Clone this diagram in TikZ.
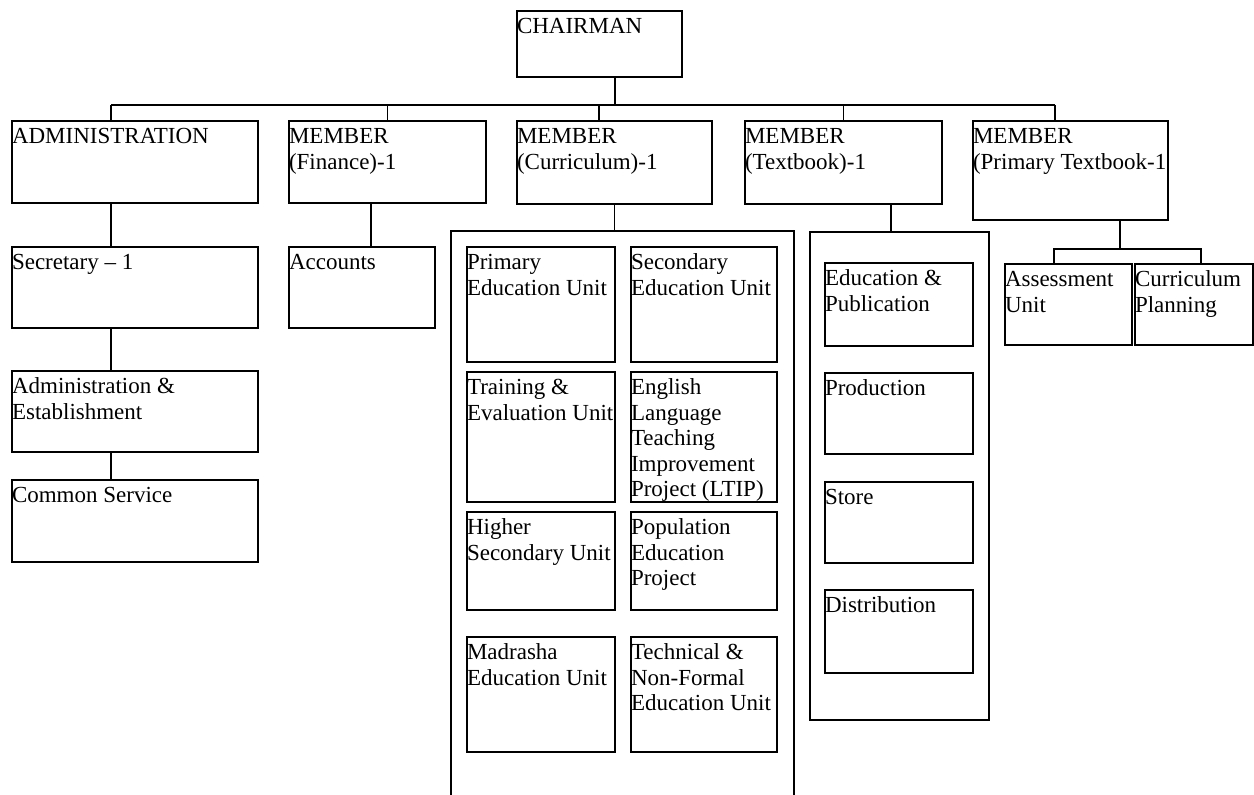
\documentclass[tikz,border=0pt]{standalone}
\usepackage{fontspec}
\setmainfont{Liberation Serif}
\usepackage{tikz}

\newcommand{\cell}[3]{\parbox[t][#2][t]{#1}{\raggedright\rule{0pt}{11.5pt}#3}}
\tikzset{unit/.style={draw, line width=0.9pt, inner sep=0pt, outer sep=0pt, anchor=north west, font=\fontsize{11.5pt}{12.7pt}\selectfont}}

\begin{document}
\begin{tikzpicture}[x=0.5pt, y=-0.5pt, line width=0.9pt]
  \useasboundingbox (0,0) rectangle (1254,795);
  \node[unit] (chair) at (517,11) {\cell{82.5pt}{33pt}{CHAIRMAN}};
  \node[unit] (admin) at (12,121) {\cell{123pt}{41pt}{ADMINISTRATION}};
  \node[unit] (fin) at (289,121) {\cell{98.5pt}{41pt}{MEMBER\\(Finance)-1}};
  \node[unit] (cur) at (517,121) {\cell{97.5pt}{41.5pt}{MEMBER\\(Curriculum)-1}};
  \node[unit] (tb) at (745,121) {\cell{98.5pt}{41.5pt}{MEMBER\\(Textbook)-1}};
  \node[unit] (ptb) at (973,121) {\cell{97.5pt}{49.5pt}{MEMBER\\(Primary Textbook-1}};
  \node[unit] (sec) at (12,247) {\cell{123pt}{40.5pt}{Secretary -- 1}};
  \node[unit] (adm) at (12,371) {\cell{123pt}{40.5pt}{Administration \&\\Establishment}};
  \node[unit] (com) at (12,480) {\cell{123pt}{41pt}{Common Service}};
  \node[unit] (acc) at (289,247) {\cell{73pt}{40.5pt}{Accounts}};
  \node[unit] (curbox) at (451,231) {\cell{171.5pt}{299.5pt}{}};
  \node[unit] (pri) at (467,247) {\cell{74pt}{57.5pt}{Primary\\Education Unit}};
  \node[unit] (scd) at (631,247) {\cell{73pt}{57.5pt}{Secondary\\Education Unit}};
  \node[unit] (trn) at (467,372) {\cell{74pt}{65pt}{Training \&\\Evaluation Unit}};
  \node[unit] (eng) at (631,372) {\cell{73pt}{65pt}{English\\Language\\Teaching\\Improvement\\Project (LTIP)}};
  \node[unit] (hig) at (467,512) {\cell{74pt}{49pt}{Higher\\Secondary Unit}};
  \node[unit] (pop) at (631,512) {\cell{73pt}{49pt}{Population\\Education\\Project}};
  \node[unit] (mad) at (467,637) {\cell{74pt}{57.5pt}{Madrasha\\Education Unit}};
  \node[unit] (tec) at (631,637) {\cell{73pt}{57.5pt}{Technical \&\\Non-Formal\\Education Unit}};
  \node[unit] (tbbox) at (810,232) {\cell{89.5pt}{244pt}{}};
  \node[unit] (edu) at (825,263) {\cell{74pt}{41.5pt}{Education \&\\Publication}};
  \node[unit] (pro) at (825,373) {\cell{74pt}{40.5pt}{Production}};
  \node[unit] (sto) at (825,482) {\cell{74pt}{40.5pt}{Store}};
  \node[unit] (dis) at (825,590) {\cell{74pt}{41.5pt}{Distribution}};
  \node[unit] (ass) at (1005,264) {\cell{63.5pt}{40.5pt}{Assessment\\Unit}};
  \node[unit] (cpl) at (1135,264) {\cell{59pt}{40.5pt}{Curriculum\\Planning}};
  \coordinate (busL) at (111,105);
  \coordinate (busR) at (1055,105);
  \coordinate (cc) at (615,105);
  \coordinate (tC) at (599,105);
  \coordinate (fd) at (371,225);
  \coordinate (td) at (891,218);
  \coordinate (pd) at (1120,249);
  \coordinate (sbL) at (1054,249);
  \coordinate (sbR) at (1201,249);
  \draw (busL) -- (busR);
  \draw (chair.south -| cc) -- (cc);
  \draw (busL) -- (busL |- admin.north);
  \draw (fin.north |- busL) -- (fin.north);
  \draw (tC) -- (tC |- cur.north);
  \draw (tb.north |- busL) -- (tb.north);
  \draw (busR) -- (busR |- ptb.north);
  \draw (admin.south -| busL) -- (sec.north -| busL);
  \draw (sec.south -| busL) -- (adm.north -| busL);
  \draw (adm.south -| busL) -- (com.north -| busL);
  \draw (fin.south -| fd) -- (acc.north -| fd);
  \draw (cur.south) -- (curbox.north -| cur.south);
  \draw (tb.south -| td) -- (tbbox.north -| td);
  \draw (ptb.south -| pd) -- (pd);
  \draw (ass.north -| sbL) -- (sbL) -- (sbR) -- (cpl.north -| sbR);
\end{tikzpicture}
\end{document}
